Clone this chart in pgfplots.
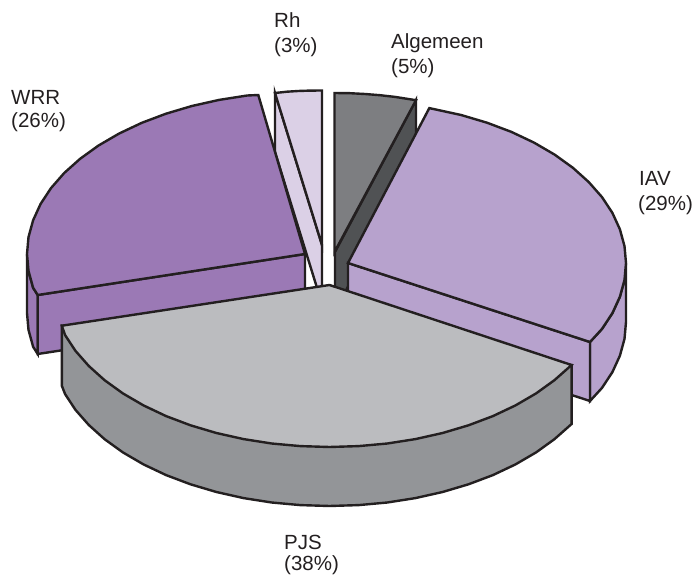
\documentclass[border=0pt]{standalone}
\usepackage{pgfplots}
\pgfplotsset{compat=1.18}
\usepackage{fontspec}
\setmainfont{Liberation Sans}
\definecolor{Edge}{HTML}{231F20}
\definecolor{WrrCol}{HTML}{9B79B5}
\definecolor{IavCol}{HTML}{B7A2CD}
\definecolor{PjsTop}{HTML}{BBBCBF}
\definecolor{PjsSide}{HTML}{939598}
\definecolor{AlgTop}{HTML}{7D7E81}
\definecolor{AlgSide}{HTML}{505254}
\definecolor{RhCol}{HTML}{DBD0E6}
\pgfplotsset{slice/.style={draw=Edge, line width=2.4pt, line join=miter, mark=none}}
\tikzset{lab/.style={anchor=base west, inner sep=0pt, text=Edge, font=\fontsize{20.5}{24}\selectfont}}

\begin{document}
\begin{tikzpicture}
\begin{axis}[
    width=699pt, height=578pt,
    scale only axis,
    xmin=0, xmax=699,
    ymin=0, ymax=578,
    y dir=reverse,
    hide axis,
    clip=false,
]
% Rh (3%)
\addplot[slice, fill=RhCol] coordinates {(275,93) (275,152) (322,304) (322,245)} --cycle;
\addplot[slice, fill=RhCol] coordinates {(275,93) (287,91.7) (298,91) (310,90.6) (322,90.5) (322,245)} --cycle;
% Algemeen (5%)
\addplot[slice, fill=AlgSide] coordinates {(416,100) (416,159) (335,311) (335,252)} --cycle;
\addplot[slice, fill=AlgTop] coordinates {(334.5,93) (350,93.2) (365,94) (380,95.2) (395,96.9) (416,100.2) (334.5,252)} --cycle;
% WRR (26%)
\addplot[slice, fill=WrrCol] coordinates {(27,254) (27,313) (28.5,329.9) (33.1,346.7) (37.7,354) (37.7,295) (33.1,287.7) (28.5,270.9)} --cycle;
\addplot[slice, fill=WrrCol] coordinates {(37.7,295) (37.7,354) (305,313) (305,254)} --cycle;
\addplot[slice, fill=WrrCol] coordinates {
    (37.7,295) (33.1,287.7) (28.5,270.9) (27,254) (28.5,237.1) (33.1,220.3) (40.6,203.9)
    (51,188.1) (64.2,173) (80.1,158.8) (98.4,145.6) (119,133.6) (141.6,122.9) (166,113.7)
    (191.9,106) (219.1,99.9) (247.2,95.5) (258.3,95) (305,254)} --cycle;
% IAV (29%)
\addplot[slice, fill=IavCol] coordinates {(626,263) (626,322) (624.5,338.9) (619.9,355.7) (612.4,372.1) (602,387.9) (590,401) (590,342) (602,328.9) (612.4,313.1) (619.9,296.7) (624.5,279.9)} --cycle;
\addplot[slice, fill=IavCol] coordinates {(348,263) (348,322) (590,401) (590,342)} --cycle;
\addplot[slice, fill=IavCol] coordinates {
    (348,263) (429.3,108.1) (461.1,115) (487,122.7) (511.4,131.9) (534,142.6) (554.6,154.6)
    (572.9,167.8) (588.7,182) (602,197.1) (612.4,212.9) (619.9,229.3) (624.5,246.1) (626,263)
    (624.5,279.9) (619.9,296.7) (612.4,313.1) (602,328.9) (590,342)} --cycle;
% PJS (38%)
\addplot[slice, fill=PjsSide] coordinates {
    (571.6,365) (571.6,424) (554.4,439.2) (536.1,452.4) (515.5,464.4) (492.9,475.1) (468.5,484.3)
    (442.6,492) (415.4,498.1) (387.3,502.5) (358.6,505.1) (329.5,506) (300.4,505.1) (271.7,502.5)
    (243.6,498.1) (216.4,492) (190.5,484.3) (166.1,475.1) (143.5,464.4) (122.9,452.4) (104.6,439.2)
    (88.8,425) (75.5,409.9) (65.1,394.1) (61.8,385.7) (61.8,325.7)} --cycle;
\addplot[slice, fill=PjsTop] coordinates {
    (329.5,285) (571.6,365) (554.4,380.2) (536.1,393.4) (515.5,405.4) (492.9,416.1) (468.5,425.3)
    (442.6,433) (415.4,439.1) (387.3,443.5) (358.6,446.1) (329.5,447) (300.4,446.1) (271.7,443.5)
    (243.6,439.1) (216.4,433) (190.5,425.3) (166.1,416.1) (143.5,405.4) (122.9,393.4) (104.6,380.2)
    (88.8,366) (75.5,350.9) (65.1,335.1) (61.8,325.7)} --cycle;
% labels
\node[lab] at (axis cs:274,28) {Rh};
\node[lab] at (axis cs:274,53) {(3\%)};
\node[lab] at (axis cs:391,49) {Algemeen};
\node[lab] at (axis cs:391,74) {(5\%)};
\node[lab] at (axis cs:11,104) {WRR};
\node[lab] at (axis cs:11,128) {(26\%)};
\node[lab] at (axis cs:639,185) {IAV};
\node[lab] at (axis cs:638,210) {(29\%)};
\node[lab] at (axis cs:284,549) {PJS};
\node[lab] at (axis cs:284,570) {(38\%)};
\end{axis}
\pgfresetboundingbox
\useasboundingbox (0,0) rectangle (699pt,578pt);
\end{tikzpicture}
\end{document}
